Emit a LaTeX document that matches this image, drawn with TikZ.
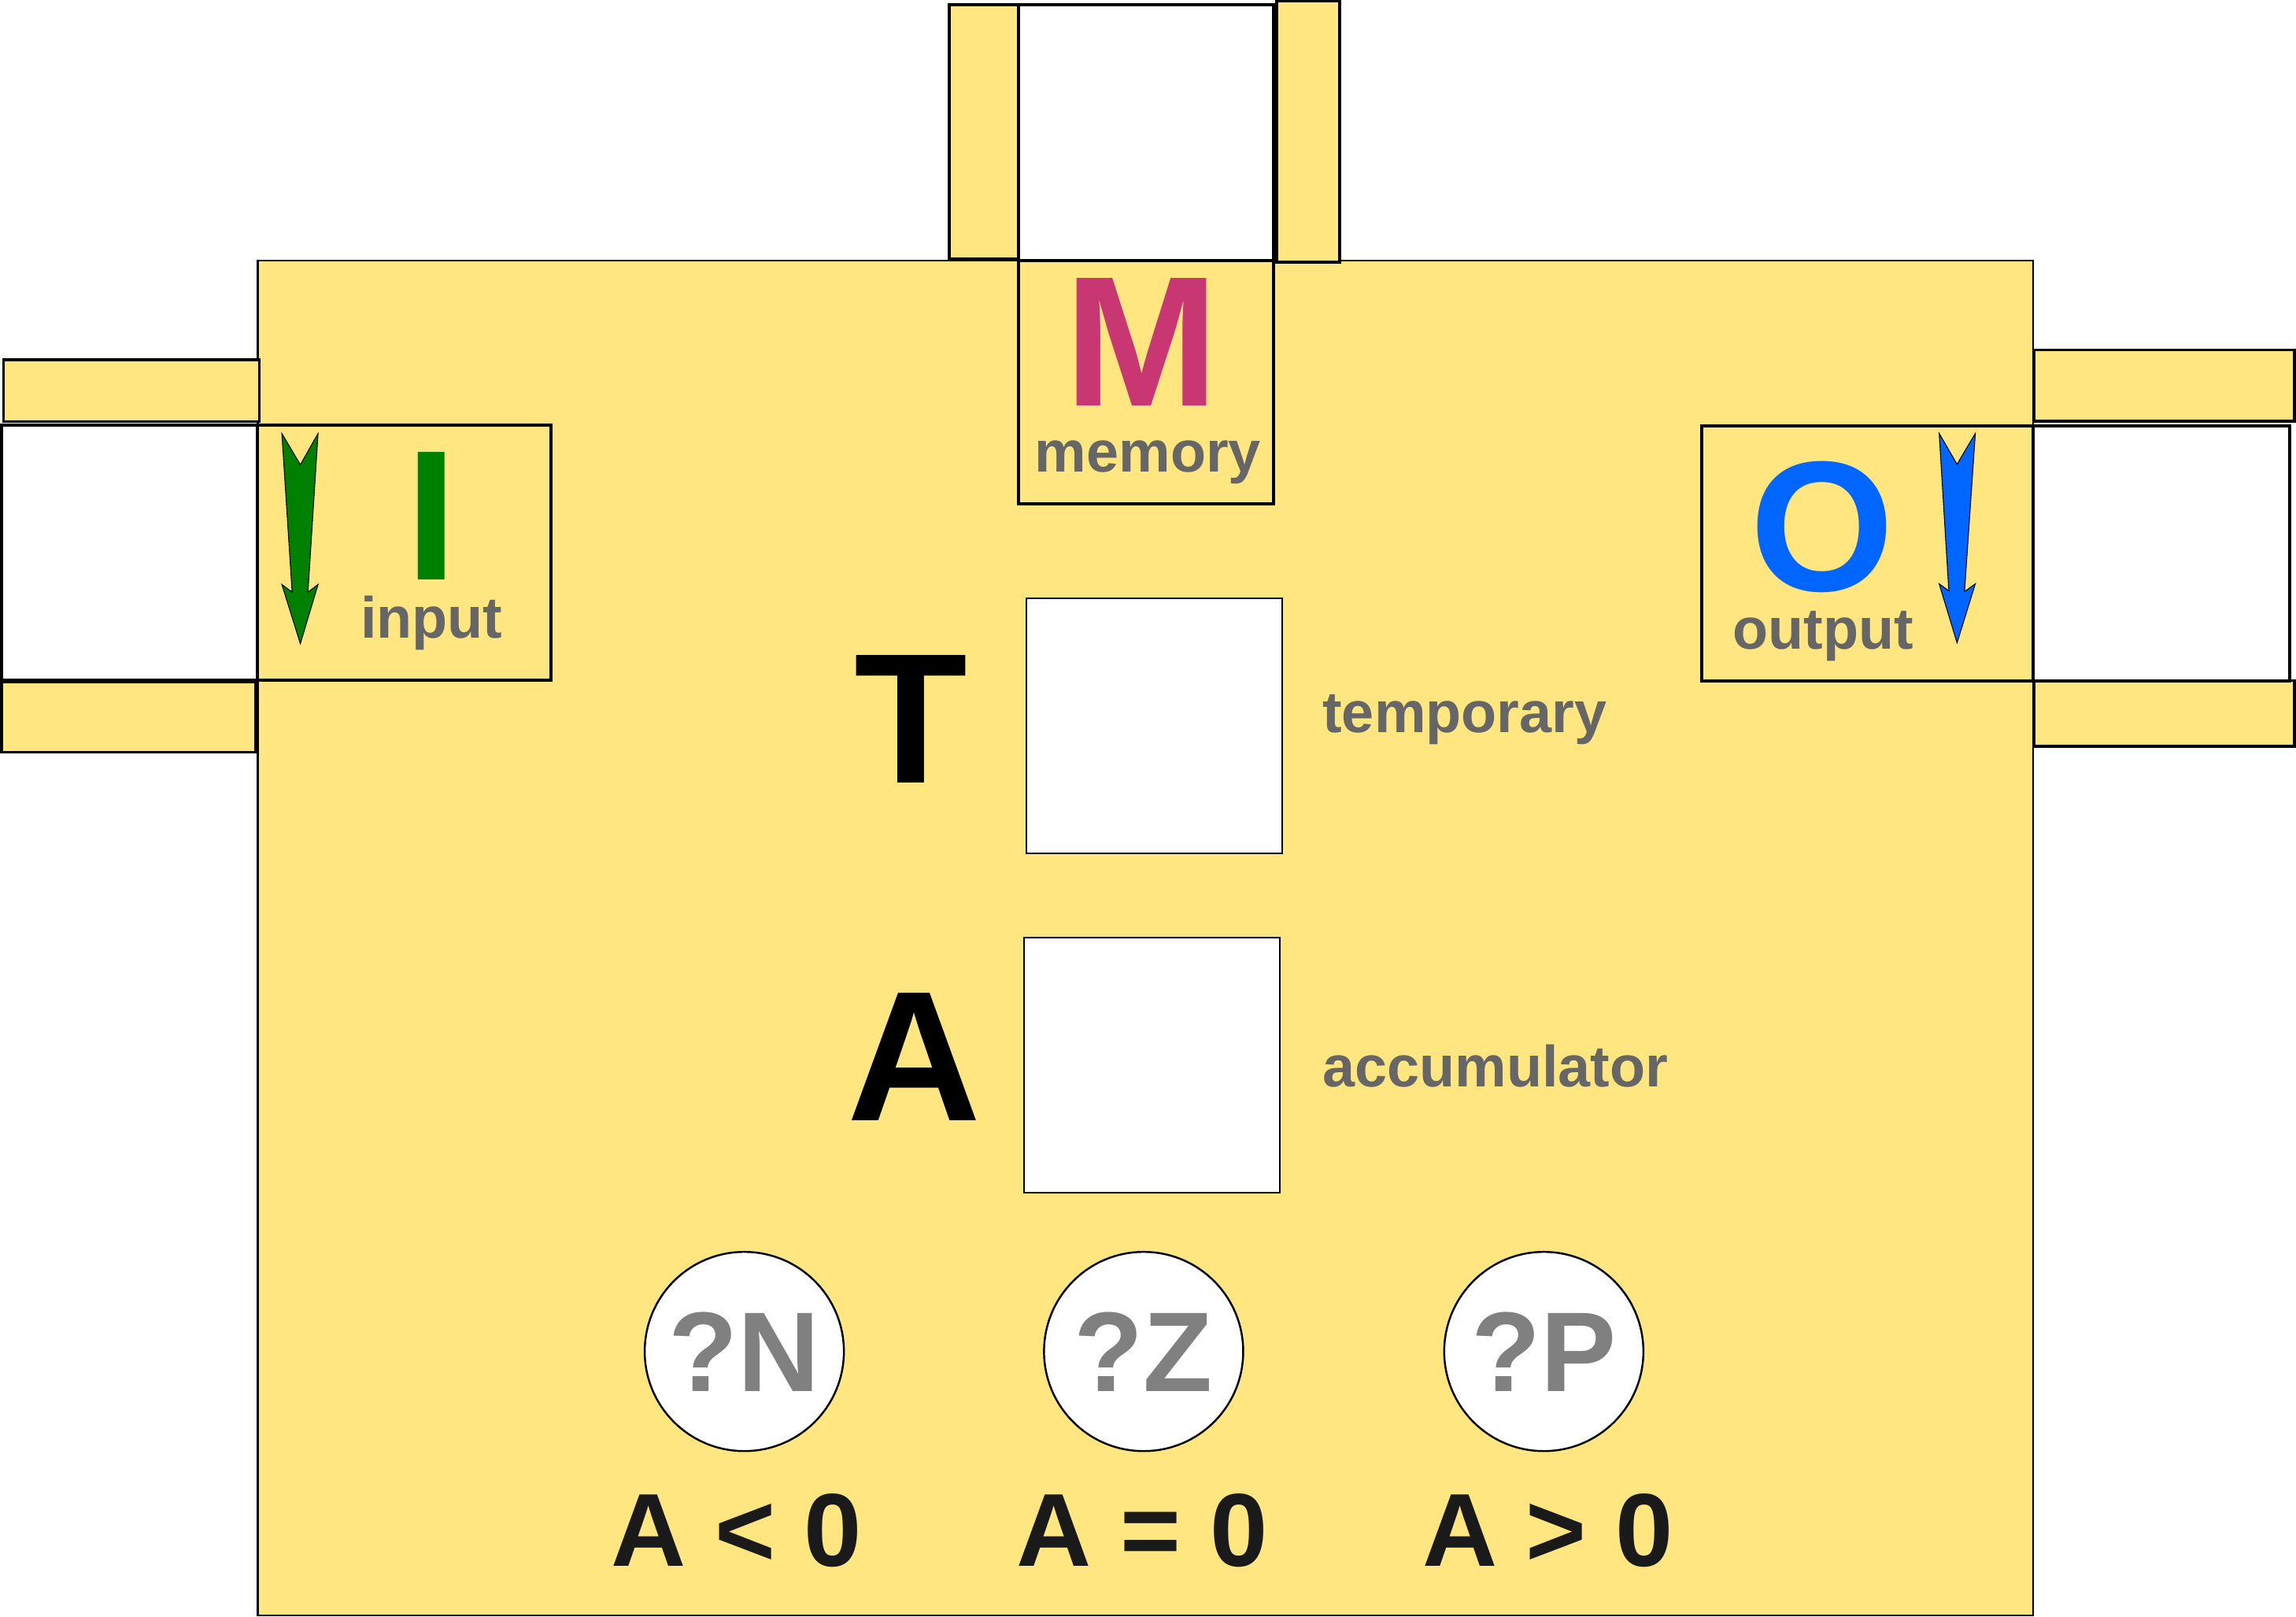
\documentclass[tikz,border=0pt]{standalone}
\usepackage{fontspec}
\setmainfont{Liberation Sans}
\definecolor{cpuyellow}{HTML}{FFE680}
\definecolor{memmagenta}{HTML}{C83771}
\definecolor{ingreen}{HTML}{008000}
\definecolor{outblue}{HTML}{0066FF}
\definecolor{labelgray}{HTML}{666666}
\definecolor{flaggray}{HTML}{808080}
\definecolor{condblack}{HTML}{1A1A1A}

\begin{document}
\begin{tikzpicture}[
      x=0.018603cm, y=-0.018603cm,
      every node/.style={inner sep=0pt},
      body/.style={draw, fill=cpuyellow, line width=0.7pt},
      strip/.style={draw, fill=cpuyellow, line width=1pt},
      slot/.style={draw, fill=white, line width=1.2pt},
      port/.style={draw, fill=cpuyellow, line width=1.2pt},
      reg/.style={draw, fill=white, line width=0.6pt},
      flag/.style={circle, draw, fill=white, line width=0.7pt, minimum size=2.53cm,
        text=flaggray, font=\bfseries\fontsize{41}{41}\selectfont},
      big/.style={anchor=base, font=\bfseries\fontsize{67}{67}\selectfont},
      word/.style={anchor=base, text=labelgray, font=\bfseries\fontsize{21}{21}\selectfont},
      cond/.style={anchor=base, text=condblack, font=\bfseries\fontsize{37.5}{37.5}\selectfont},
      flow/.style={draw=black, line width=0.3pt},
    ]
    \useasboundingbox (0,0) rectangle (1568,1104);

    % processor body
    \draw[body] (176,178) rectangle (1388.5,1103);

    % memory slot on top
    \draw[strip] (648.4,3.2) rectangle (695.5,176.5);
    \draw[strip] (872,0.7) rectangle (915,179);
    \draw[slot] (695.5,3.2) rectangle (869.8,177.8);
    \draw[port] (695.5,177.8) rectangle (869.8,344);
    \node[big, text=memmagenta] (mletter) at (780,277) {M};
    \node[word] (mword) at (783.9,322.4) {memory};

    % input slot on the left
    \draw[strip] (2.5,245.6) rectangle (177,287.8);
    \draw[strip] (1.2,465.4) rectangle (174.8,513.5);
    \draw[slot] (1.2,290.4) rectangle (175.8,464.5);
    \draw[port] (175.8,290.4) rectangle (376.4,464.5);
    \fill[ingreen, flow] (192.5,296) -- (205.1,317.3) -- (217.2,296) -- (210.3,404.3)
      -- (217.2,399.1) -- (205.1,439.5) -- (192.5,399.1) -- (199.5,404.3) -- cycle;
    \node[big, text=ingreen] (iletter) at (294.7,396) {I};
    \node[word] (iword) at (294.7,435.8) {input};

    % output slot on the right
    \draw[strip] (1389,238.9) rectangle (1567,287.6);
    \draw[strip] (1389,464.8) rectangle (1567,509.6);
    \draw[slot] (1388.4,290.7) rectangle (1563.5,464.8);
    \draw[port] (1162,290.7) rectangle (1388.4,464.8);
    \fill[outblue, flow] (1324.3,295.9) -- (1336.5,317) -- (1349,295.9) -- (1341.6,404)
      -- (1349,398.6) -- (1336.5,438.9) -- (1324.3,398.6) -- (1330.9,403.4) -- cycle;
    \node[big, text=outblue] (oletter) at (1244.5,403.5) {O};
    \node[word] (oword) at (1245,443.2) {output};

    % registers
    \draw[reg] (700.8,408.4) rectangle (875.7,582.6);
    \node[big] (tletter) at (622.3,534.4) {T};
    \node[word, anchor=base west] (tword) at (902.9,500.4) {temporary};
    \draw[reg] (699.2,640.3) rectangle (873.9,814.5);
    \node[big] (aletter) at (624.4,765.2) {A};
    \node[word, anchor=base west] (aword) at (902.9,742.2) {accumulator};

    % condition flags
    \node[flag] (flagN) at (508.3,922.8) {?N};
    \node[flag] (flagZ) at (781,922.8) {?Z};
    \node[flag] (flagP) at (1054.3,922.8) {?P};
    \node[cond] (condN) at (503,1069.2) {A < 0};
    \node[cond] (condZ) at (780,1069.2) {A = 0};
    \node[cond] (condP) at (1057,1069.2) {A > 0};
  \end{tikzpicture}
\end{document}
